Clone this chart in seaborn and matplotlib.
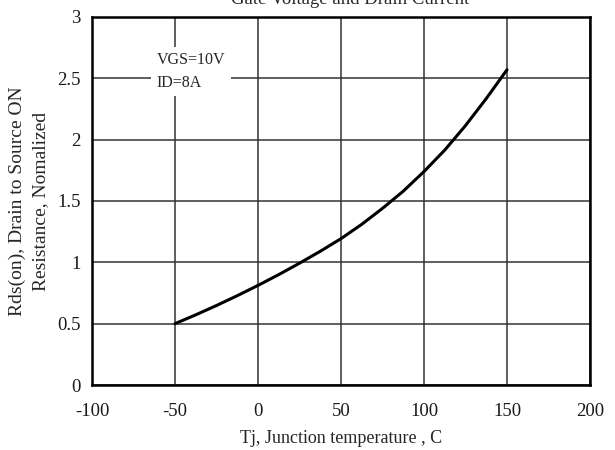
import numpy as np
import pandas as pd
import matplotlib.pyplot as plt
import seaborn as sns

# values (every 12.5 C)
temp_c = [-50, -37.5, -25, -12.5, 0, 12.5, 25, 37.5, 50, 62.5, 75, 87.5,
          100, 112.5, 125, 137.5, 150]
rds_norm = [0.50, 0.572, 0.648, 0.728, 0.812, 0.90, 0.993, 1.09, 1.193, 1.31,
            1.44, 1.58, 1.74, 1.915, 2.115, 2.335, 2.57]

x_ticks = [-100, -50, 0, 50, 100, 150, 200]
y_ticks = [0, 0.5, 1, 1.5, 2, 2.5, 3]
y_tick_labels = ["0", "0.5", "1", "1.5", "2", "2.5", "3"]

sns.set_style("white")
plt.rcParams['font.family'] = ['Liberation Serif', 'DejaVu Serif']
plt.rcParams['axes.unicode_minus'] = False

df = pd.DataFrame({'Tj': temp_c, 'Rds': rds_norm})

fig = plt.figure(figsize=(6.15, 4.5), dpi=100)
ax = fig.add_axes([92 / 615, 1 - 385 / 450, (590 - 92) / 615, (385 - 17) / 450])

sns.lineplot(data=df, x='Tj', y='Rds', ax=ax, color='black', linewidth=2.2)

ax.set_xlim(-100, 200)
ax.set_ylim(0, 3)
ax.set_xticks(x_ticks)
ax.set_yticks(y_ticks)
ax.set_yticklabels(y_tick_labels)
ax.tick_params(axis='both', length=0, labelsize=13.5, colors='#1a1a1a')
ax.tick_params(axis='x', pad=13)
ax.tick_params(axis='y', pad=8)
ax.grid(True, color='#333333', linewidth=1.1)
for s in ax.spines.values():
    s.set_color('black')
    s.set_linewidth(1.8)

ax.set_xlabel('Tj, Junction temperature , C', fontsize=13, labelpad=7)
ax.set_ylabel('Rds(on), Drain to Source ON\nResistance, Nomalized', fontsize=14,
              labelpad=6, linespacing=1.45)

ax.text(-61, 2.555, 'VGS=10V\nID=8A', fontsize=11.5, ha='left', va='center',
        linespacing=1.55, bbox=dict(facecolor='white', edgecolor='none', pad=4))

# title is cut off at the top of the reference image
fig.text(350 / 615, 1 - 4 / 450, 'Gate Voltage and Drain Current', ha='center',
         va='baseline', fontsize=13.5)

fig.savefig('out.png', dpi=100)
